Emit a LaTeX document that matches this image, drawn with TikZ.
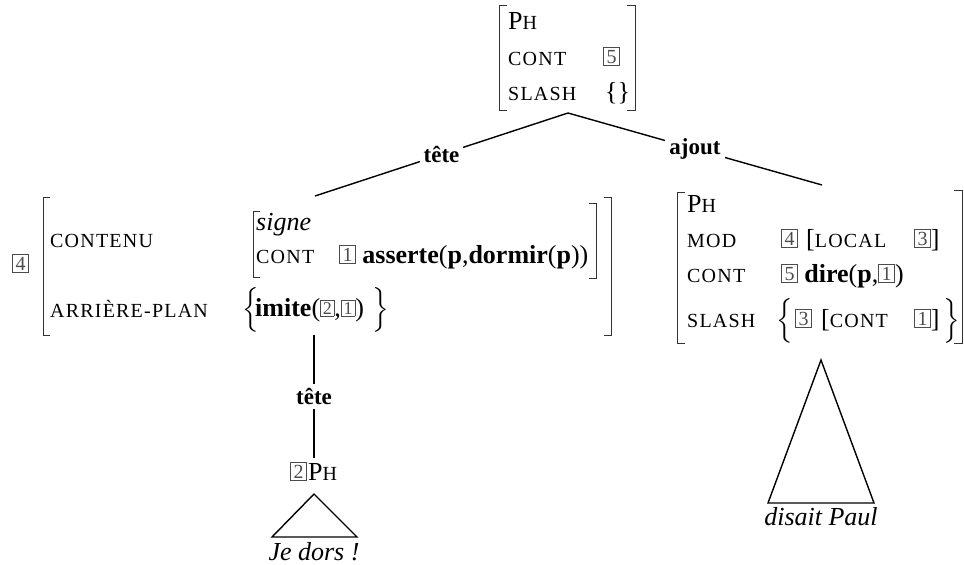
\RequirePackage{fix-cm}
\documentclass[tikz,border=0pt]{standalone}
\usepackage{fontspec}
\setmainfont{Liberation Serif}
\newfontfamily\scf[LetterSpace=6]{Liberation Serif}
\usepackage{amsmath}
\definecolor{boxgray}{gray}{0.3}
\newcommand{\smc}[1]{{\scf\fontsize{20}{20}\selectfont #1}}
\newcommand{\bxn}[1]{\raisebox{1.5pt}{\setlength\fboxsep{1.4pt}\setlength\fboxrule{0.7pt}\textcolor{boxgray}{\fbox{\makebox[12.5pt]{\rule{0pt}{14pt}\fontsize{20}{20}\selectfont #1}}}}}
\newcommand{\bxs}[1]{\raisebox{1.5pt}{\setlength\fboxsep{1.2pt}\setlength\fboxrule{0.7pt}\textcolor{boxgray}{\fbox{\makebox[10.5pt]{\rule{0pt}{13pt}\fontsize{18}{18}\selectfont #1}}}}}
\newcommand{\bigL}{$\left\{\rule[-15pt]{0pt}{43pt}\right.$}
\newcommand{\bigR}{$\left.\rule[-15pt]{0pt}{43pt}\right\}$}
\begin{document}
\begin{tikzpicture}[x=1pt,y=-1pt,
  txt/.style={anchor=base west,inner sep=0pt,font=\fontsize{26}{30}\selectfont},
  lbl/.style={fill=white,inner xsep=4pt,inner ysep=4pt,font=\fontsize{23}{27}\selectfont\bfseries},
  tree/.style={line width=1.4pt,line join=miter},
  brk/.style={line width=1pt,black!80}]
\useasboundingbox (0,0) rectangle (964,565);

% ---------- top AVM
\draw[brk] (507,5) -- (499,5) -- (499,110) -- (507,110);
\draw[brk] (627,5) -- (635,5) -- (635,110) -- (627,110);
\node[txt] (tph) at (508,29) {P\smc{H}};
\node[txt] (tcont) at (508,65) {\smc{CONT}};
\node[txt] (tb5) at (603,65) {\bxn{5}};
\node[txt] (tslash) at (508,100) {\smc{SLASH}};
\node[txt] (tset) at (605,100) {\{\}};
\coordinate (top) at (568,113);

% ---------- left AVM
\node[txt] (lb4) at (12,272) {\bxn{4}};
\draw[brk] (50,197) -- (43,197) -- (43,335) -- (50,335);
\draw[brk] (604,197) -- (611,197) -- (611,335) -- (604,335);
\node[txt] (lcontenu) at (50,247) {\smc{CONTENU}};
\node[txt] (larr) at (50,317) {\smc{ARRIÈRE-PLAN}};
\draw[brk] (260,211) -- (253,211) -- (253,277) -- (260,277);
\draw[brk] (589,203) -- (596,203) -- (596,278) -- (589,278);
\node[txt] (lsigne) at (256,230) {\textit{signe}};
\node[txt] (lcont) at (256,263) {\smc{CONT}};
\node[txt] (lass) at (339,263) {\bxn{1}\hspace{6.5pt}\textbf{asserte}(\textbf{p},\textbf{dormir}(\textbf{p}))};
\node[txt] (llbr) at (242,316) {\bigL};
\node[txt] (limite) at (255,316) {\textbf{imite}(\bxs{2},\bxs{1})};
\node[txt] (lrbr) at (371,316) {\bigR};
\coordinate (leftT) at (315,196);
\coordinate (leftB) at (314,335);

% ---------- right AVM
\draw[brk] (685,192) -- (677,192) -- (677,343) -- (685,343);
\draw[brk] (954,190) -- (962,190) -- (962,343) -- (954,343);
\node[txt] (rph) at (687,212) {P\smc{H}};
\node[txt] (rmod) at (687,247) {\smc{MOD}};
\node[txt] (rb4) at (781,247) {\bxn{4}};
\node[txt] (rlocal) at (806,247) {[\smc{LOCAL}};
\node[txt] (rb3) at (914,247) {\bxn{3}]};
\node[txt] (rcont) at (687,282) {\smc{CONT}};
\node[txt] (rdire) at (781,282) {\bxn{5}\hspace{6.5pt}\textbf{dire}(\textbf{p},\bxn{1})};
\node[txt] (rslash) at (687,327) {\smc{SLASH}};
\node[txt] (rlbr) at (776,327) {\bigL};
\node[txt] (rb3b) at (795,327) {\bxn{3}};
\node[txt] (rcontb) at (821,327) {[\smc{CONT}};
\node[txt] (rb1b) at (914,327) {\bxn{1}]};
\node[txt] (rrbr) at (942,327) {\bigR};
\coordinate (rightT) at (822,185);
\coordinate (rightB) at (821,360);

% ---------- tree
\draw[tree] (top) -- node[lbl] (lt1) {tête} (leftT);
\draw[tree] (top) -- node[lbl] (la1) {ajout} (rightT);
\coordinate (ph2T) at (314,458);
\draw[tree] (leftB) -- node[lbl] (lt2) {tête} (ph2T);

\node[txt] (ph2b) at (290,480) {\bxn{2}};
\node[txt] (ph2) at (308,480) {P\smc{H}};
\coordinate (t1a) at (314,494);
\coordinate (t1b) at (272,537);
\coordinate (t1c) at (357,537);
\draw[tree] (t1a) -- (t1b) -- (t1c) -- cycle;
\node[txt,anchor=base] (jedors) at (314,560) {\textit{Je dors !}};

\coordinate (t2b) at (768,503);
\coordinate (t2c) at (874,503);
\draw[tree] (rightB) -- (t2b) -- (t2c) -- cycle;
\node[txt,anchor=base] (paul) at (821,525) {\textit{disait Paul}};
\end{tikzpicture}
\end{document}
